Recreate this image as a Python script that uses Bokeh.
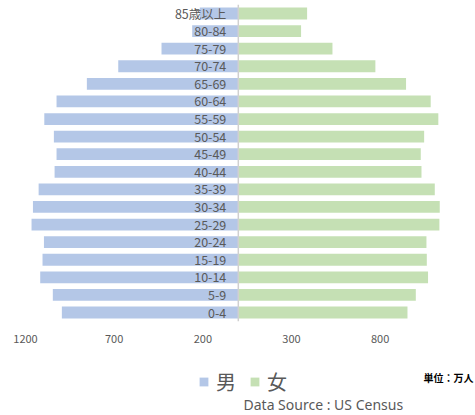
from bokeh.plotting import figure
from bokeh.models import ColumnDataSource, Legend, LegendItem, Label
from bokeh.core.properties import value
from bokeh.embed import file_html
from bokeh.resources import INLINE

ages = ["0-4", "5-9", "10-14", "15-19", "20-24", "25-29", "30-34", "35-39", "40-44",
        "45-49", "50-54", "55-59", "60-64", "65-69", "70-74", "75-79", "80-84", "85歳以上"]
male = [995, 1046, 1117, 1104, 1096, 1166, 1158, 1126, 1036,
        1025, 1040, 1094, 1025, 854, 677, 433, 260, 217]
female = [954, 1001, 1070, 1063, 1061, 1134, 1136, 1108, 1033,
          1029, 1048, 1128, 1085, 946, 773, 531, 354, 388]
tick_values = [-1200, -700, -200, 300, 800]
tick_labels = ["1200", "700", "200", "300", "800"]

FONT = "Noto Sans CJK JP"
GRAY = "#595959"
BLUE = "#B4C7E7"
GREEN = "#C5E0B4"

n = len(ages)
idx = list(range(n))
src = ColumnDataSource(dict(
    y=idx, age=ages,
    mleft=[-v for v in male], mright=[0] * n,
    fleft=[0] * n, fright=female,
    zero=[0] * n,
))
tsrc = ColumnDataSource(dict(x=tick_values, y=[-0.5] * len(tick_values), t=tick_labels))

p = figure(width=475, height=415, output_backend="svg", toolbar_location=None,
           x_range=(-1341, 1337.6), y_range=(-5.856, 17.739),
           min_border=0)
p.outline_line_color = None
p.background_fill_color = "white"
p.border_fill_color = "white"
p.grid.visible = False
p.axis.visible = False

r_m = p.hbar(y="y", left="mleft", right="mright", height=0.67, source=src,
             fill_color=BLUE, line_color=None)
r_f = p.hbar(y="y", left="fleft", right="fright", height=0.67, source=src,
             fill_color=GREEN, line_color=None)

# centre line spanning the category band
p.segment(x0=0, y0=-0.5, x1=0, y1=n - 0.5, line_color="#D0D0D0", line_width=1.5)

p.text(x="zero", y="y", text="age", source=src, x_offset=-12,
       text_align="right", text_baseline="middle",
       text_font=value(FONT), text_font_size="12.5px", text_color=GRAY)

# value-axis tick labels
p.text(x="x", y="y", text="t", source=tsrc, y_offset=18,
       text_align="center", text_baseline="middle",
       text_font=value(FONT), text_font_size="11px", text_color=GRAY)

legend = Legend(items=[LegendItem(label="男", renderers=[r_m]),
                       LegendItem(label="女", renderers=[r_f])],
                orientation="horizontal", location=(198, 19),
                glyph_width=11, glyph_height=11, label_standoff=7, spacing=13,
                padding=0, margin=0, border_line_color=None, background_fill_alpha=0,
                label_text_font=FONT, label_text_font_size="20px", label_text_color=GRAY,
                label_height=20)
p.add_layout(legend, "center")

p.add_layout(Label(x=423, y=415 - 376.5, x_units="screen", y_units="screen",
                   text="単位：万人", text_font=FONT, text_font_size="10px",
                   text_color="#000000", text_baseline="middle", text_font_style="bold"))
p.add_layout(Label(x=243, y=415 - 404, x_units="screen", y_units="screen",
                   text="Data Source : US Census", text_font="Noto Sans", text_font_size="14px",
                   text_color=GRAY, text_baseline="middle"))

open("out.html", "w").write(file_html(p, INLINE))
